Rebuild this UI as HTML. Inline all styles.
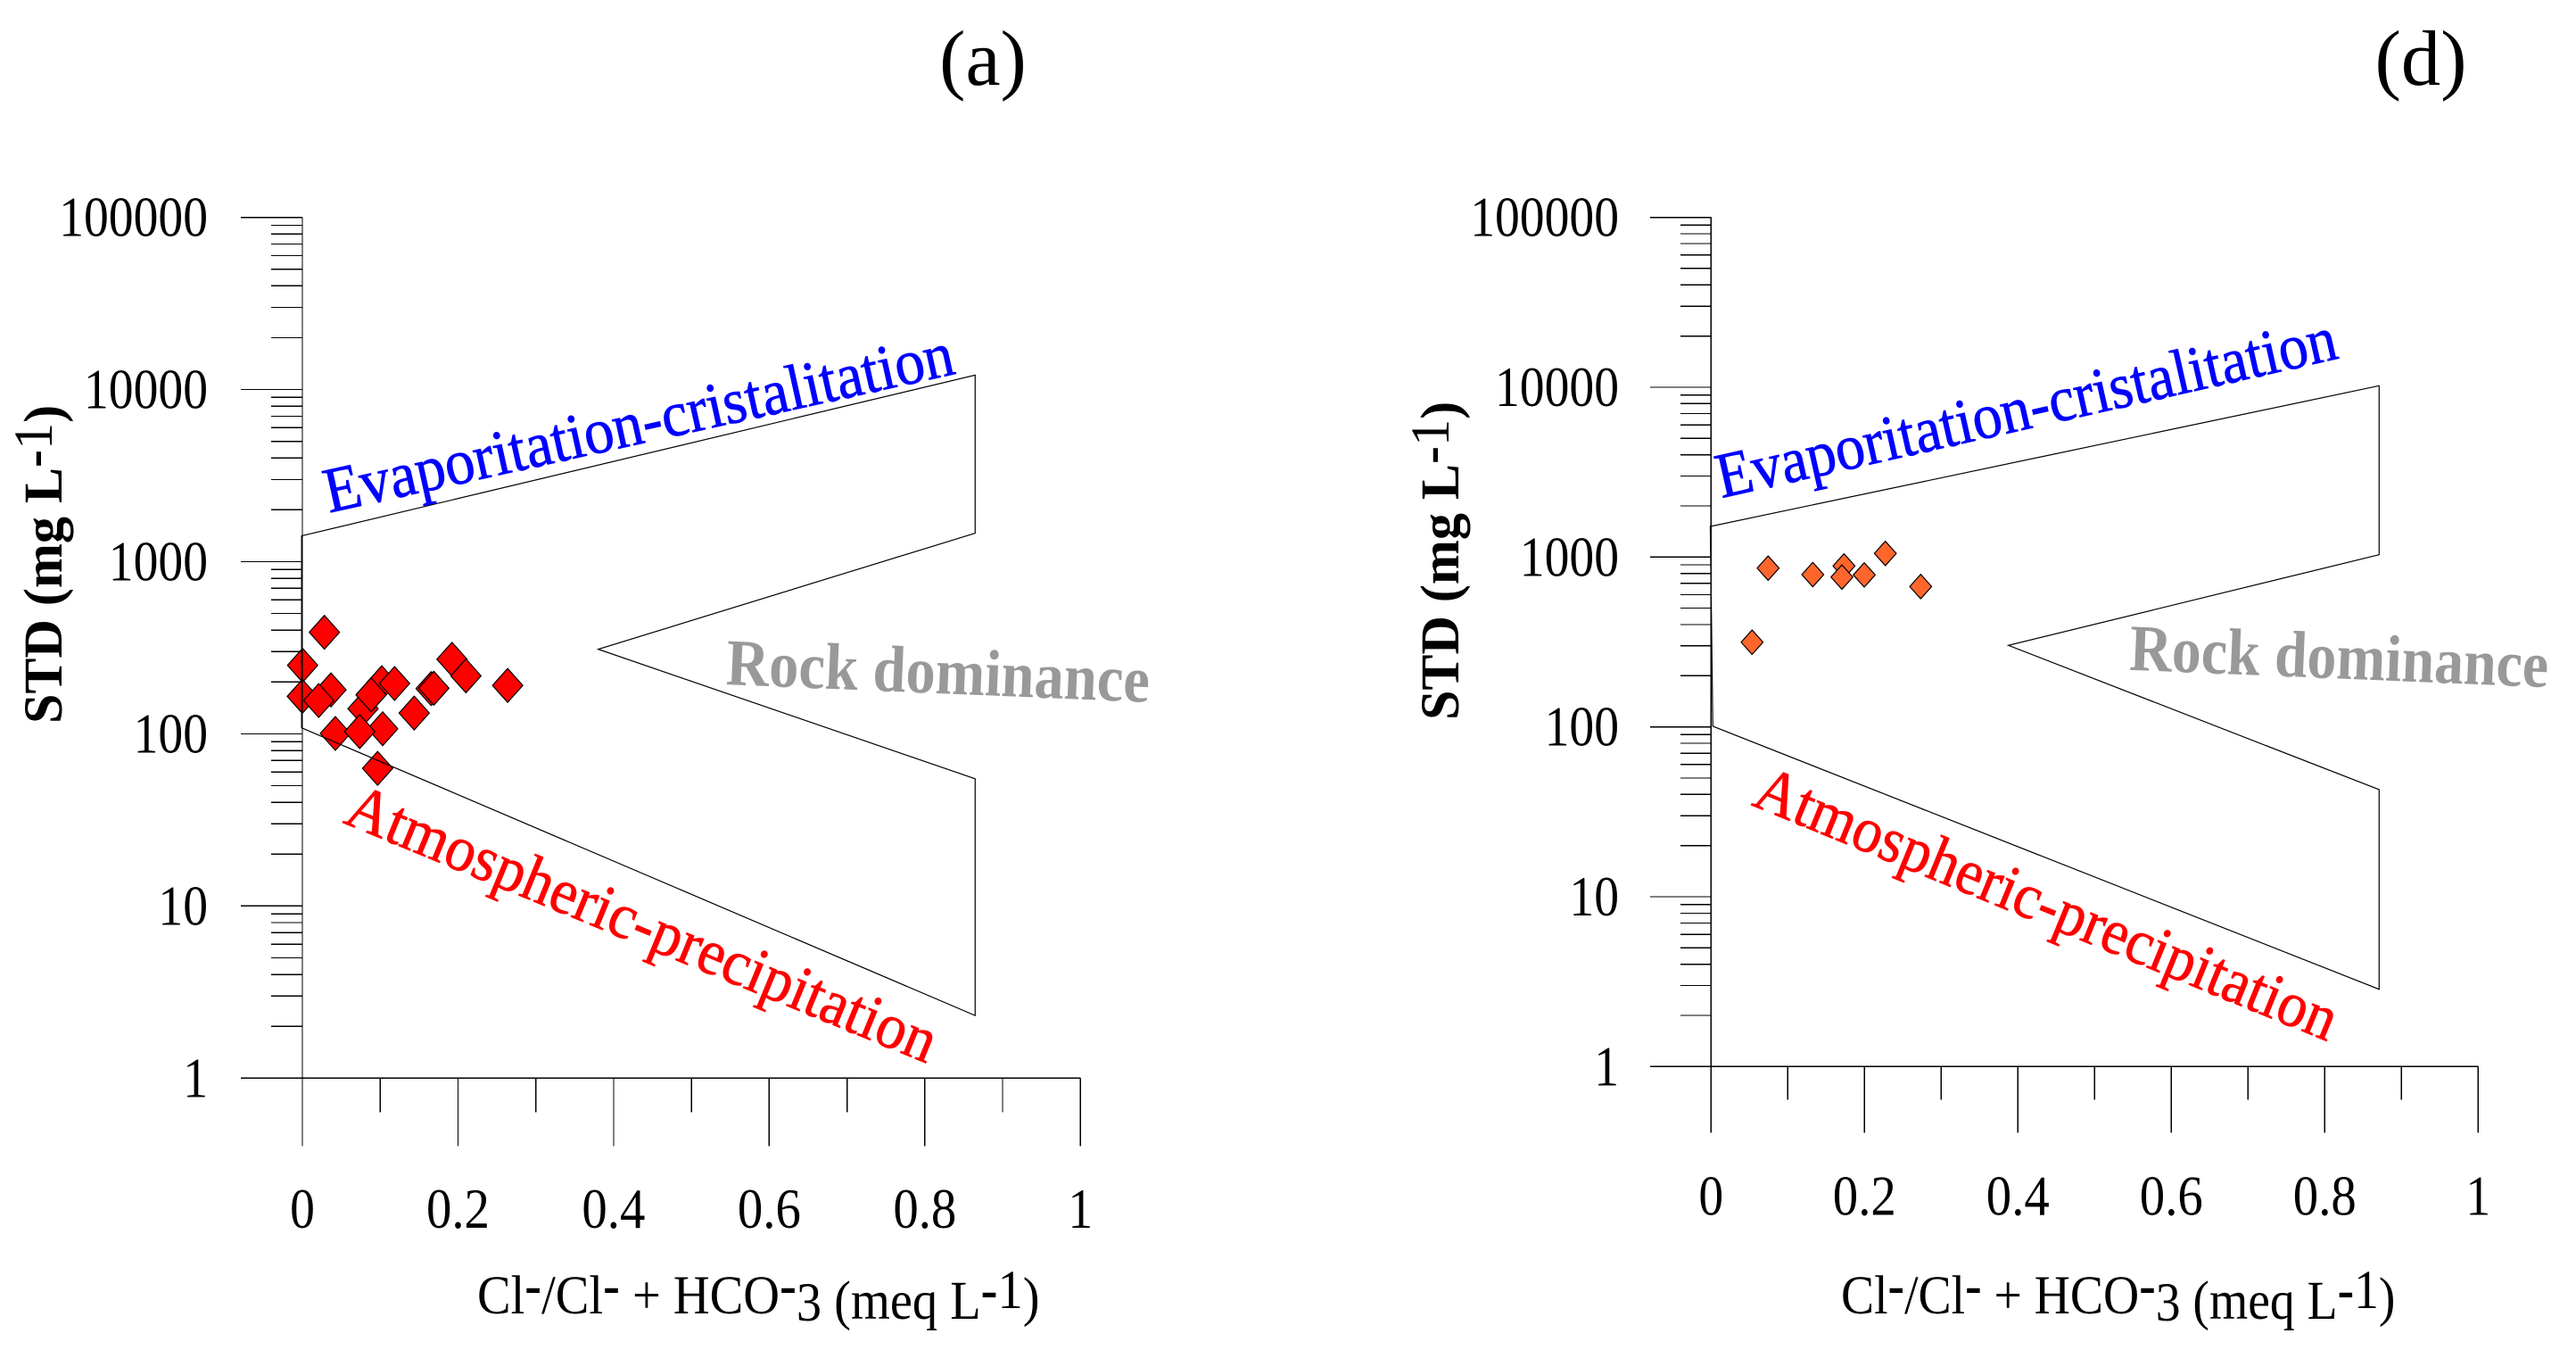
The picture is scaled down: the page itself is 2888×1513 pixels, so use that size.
<!DOCTYPE html>
<html lang="en">
<head>
<meta charset="utf-8">
<title>Gibbs diagrams (a) and (d)</title>
<style>
html,body{margin:0;padding:0;background:#fff;}
svg{display:block;}
text{font-family:"Liberation Serif",serif;fill:#000;}
.lab{font-size:61px;}
.bold{font-weight:bold;}
</style>
</head>
<body>
<svg id="figure" xmlns="http://www.w3.org/2000/svg" width="2888" height="1513" viewBox="0 0 2888 1513">
<rect width="2888" height="1513" fill="#fff"/>

<g id="chart-a"></g>
<g id="chart-d"></g>

<text x="1102" y="95" text-anchor="middle" font-size="88">(a)</text>
<text x="2727" y="95" text-anchor="middle" font-size="88" textLength="103" lengthAdjust="spacingAndGlyphs" dx="-13">(d)</text>

<text class="lab bold" transform="translate(69,811) rotate(-90) scale(.985,1)">STD (mg L<tspan dy="-11">-</tspan><tspan font-weight="normal">1</tspan><tspan dy="11">)</tspan></text>
<text class="lab bold" transform="translate(1635,807) rotate(-90) scale(.985,1)">STD (mg L<tspan dy="-11">-</tspan><tspan font-weight="normal">1</tspan><tspan dy="11">)</tspan></text>

<text class="lab" transform="translate(535,1472) scale(.925,1)">Cl<tspan dy="-11" class="bold">-</tspan><tspan dy="11">/Cl</tspan><tspan dy="-11" class="bold">-</tspan><tspan dy="11"> + HCO</tspan><tspan dy="-11" class="bold">-</tspan><tspan dy="19">3</tspan><tspan dy="-2"> (meq L</tspan><tspan dy="-12" class="bold">-</tspan><tspan>1</tspan><tspan dy="8">)</tspan></text>
<text class="lab" transform="translate(2064,1472) scale(.912,1)">Cl<tspan dy="-11" class="bold">-</tspan><tspan dy="11">/Cl</tspan><tspan dy="-11" class="bold">-</tspan><tspan dy="11"> + HCO</tspan><tspan dy="-11" class="bold">-</tspan><tspan dy="19">3</tspan><tspan dy="-2"> (meq L</tspan><tspan dy="-12" class="bold">-</tspan><tspan>1</tspan><tspan dy="8">)</tspan></text>

<text transform="translate(369,574.7) rotate(-12.5)" font-size="72" textLength="721" lengthAdjust="spacingAndGlyphs" style="fill:#0000ff;stroke:#0000ff;stroke-width:.8">Evaporitation-cristalitation</text>
<text transform="translate(383.4,921.8) rotate(22.4)" font-size="72" textLength="709" lengthAdjust="spacingAndGlyphs" style="fill:#ff0000;stroke:#ff0000;stroke-width:.8">Atmospheric-precipitation</text>
<text class="bold" transform="translate(813.4,767) rotate(2.4)" font-size="74" textLength="475" lengthAdjust="spacingAndGlyphs" style="fill:#999999">Rock dominance</text>

<text transform="translate(1930,558.3) rotate(-12.75)" font-size="72" textLength="711" lengthAdjust="spacingAndGlyphs" style="fill:#0000ff;stroke:#0000ff;stroke-width:.8">Evaporitation-cristalitation</text>
<text transform="translate(1962.5,902) rotate(22.3)" font-size="72" textLength="699" lengthAdjust="spacingAndGlyphs" style="fill:#ff0000;stroke:#ff0000;stroke-width:.8">Atmospheric-precipitation</text>
<text class="bold" transform="translate(2386.6,750.7) rotate(2.37)" font-size="74" textLength="470" lengthAdjust="spacingAndGlyphs" style="fill:#999999">Rock dominance</text>
</svg>

<script>
const xTickLabels = ["0", "0.2", "0.4", "0.6", "0.8", "1"];
const xTickValues = [0, 0.2, 0.4, 0.6, 0.8, 1];
const xMinorValues = [0.1, 0.3, 0.5, 0.7, 0.9];
const yTickLabels = ["1", "10", "100", "1000", "10000", "100000"];
const yTickValues = [1, 10, 100, 1000, 10000, 100000];
const yMinorMultiples = [2, 3, 4, 5, 6, 7, 8, 9];

const samplesAX = [0.0283, 0.0003, 0, 0.0367, 0.021, 0.078, 0.102, 0.0883, 0.1185, 0.0424, 0.1032, 0.0737, 0.1437, 0.1655, 0.1689, 0.1923, 0.2102, 0.2638, 0.0967];
const samplesAY = [389, 250, 165, 180, 156, 140, 198, 168.5, 196, 100.5, 107, 103, 132, 183, 184, 271, 217, 191, 63];
const regionAX = [-0.001, -0.001, 0.8647, 0.8647, 0.3802, 0.8647, 0.8647];
const regionAY = [108.3, 1412, 12118, 1464, 310, 54.8, 2.31];

const samplesDX = [0.0744, 0.1326, 0.1733, 0.1706, 0.1997, 0.2272, 0.2733, 0.0535];
const samplesDY = [860, 788, 886, 762, 785, 1050, 670, 315];
const regionDX = [0.0023, -0.001, 0.8709, 0.8709, 0.3876, 0.8709, 0.8709];
const regionDY = [100.8, 1514, 10199, 1032, 302, 42.7, 2.85];

const SVGNS = "http://www.w3.org/2000/svg";

function make(tag, parent, attrs) {
  const el = document.createElementNS(SVGNS, tag);
  for (const k in attrs) el.setAttribute(k, attrs[k]);
  parent.appendChild(el);
  return el;
}

function drawChart(cfg) {
  const g = document.getElementById(cfg.id);
  const xScale = v => cfg.x0 + (cfg.x1 - cfg.x0) * v;
  const yScale = v => cfg.y0 + (cfg.y5 - cfg.y0) * Math.log10(v) / 5;

  cfg.sx.forEach((v, i) => {
    const cx = xScale(v), cy = yScale(cfg.sy[i]);
    const mark = make("polygon", g, {
      points: [[cx, cy - cfg.hh], [cx + cfg.hw, cy], [cx, cy + cfg.hh], [cx - cfg.hw, cy]].map(p => p.join(",")).join(" "),
      fill: cfg.color, stroke: "#000", "stroke-width": 1.2, "stroke-linejoin": "round"
    });
    
    
  });

  const region = make("polygon", g, {
    points: cfg.rx.map((v, i) => xScale(v) + "," + yScale(cfg.ry[i])).join(" "),
    fill: "none", stroke: "#000", "stroke-width": 1.2
  });
  
  

  const line = (x1, y1, x2, y2) => {
    const l = make("line", g, {x1, y1, x2, y2, stroke: "#000", "stroke-width": 1.3, "shape-rendering": "crispEdges"});
    return l;
  };

  const yAxis = line(xScale(0), yScale(1), xScale(0), yScale(100000));
  
  

  const xAxis = line(cfg.majorLeft, yScale(1), xScale(1), yScale(1));
  
  

  yTickValues.forEach((v, i) => {
    const t = line(cfg.majorLeft, yScale(v), xScale(0), yScale(v));
    
    
    const lab = make("text", g, {x: cfg.yLabelRight, y: yScale(v) + 21, "text-anchor": "end", "font-size": 63});
    lab.textContent = yTickLabels[i];
    
    
    lab.setAttribute('textLength', yTickLabels[i].length * 27.8);
    lab.setAttribute('lengthAdjust', 'spacingAndGlyphs');
    if (i < yTickValues.length - 1) {
      yMinorMultiples.forEach(m => {
        const mt = line(cfg.minorLeft, yScale(v * m), xScale(0), yScale(v * m));
        
        
      });
    }
  });

  xTickValues.forEach((v, i) => {
    const t = line(xScale(v), yScale(1), xScale(v), cfg.majorBottom);
    
    
    const lab = make("text", g, {x: xScale(v), y: cfg.xLabelBase, "text-anchor": "middle", "font-size": 63});
    lab.textContent = xTickLabels[i];
    
    
    lab.setAttribute('textLength', xTickLabels[i].length === 1 ? 27.8 : 71);
    lab.setAttribute('lengthAdjust', 'spacingAndGlyphs');
  });

  xMinorValues.forEach(v => {
    const t = line(xScale(v), yScale(1), xScale(v), cfg.minorBottom);
    
    
  });
}

drawChart({
  id: "chart-a", x0: 339, x1: 1211.3, y0: 1208.3, y5: 243.6,
  majorLeft: 270, minorLeft: 304, majorBottom: 1284.7, minorBottom: 1246.7,
  yLabelRight: 233, xLabelBase: 1376, color: "#ff0000", hw: 17, hh: 19,
  sx: samplesAX, sy: samplesAY, rx: regionAX, ry: regionAY
});
drawChart({
  id: "chart-d", x0: 1918.3, x1: 2778.3, y0: 1195.3, y5: 243.6,
  majorLeft: 1850, minorLeft: 1884, majorBottom: 1269.3, minorBottom: 1232.7,
  yLabelRight: 1815, xLabelBase: 1361.7, color: "#ff662c", hw: 12.3, hh: 13.7,
  sx: samplesDX, sy: samplesDY, rx: regionDX, ry: regionDY
});
</script>
</body>
</html>
